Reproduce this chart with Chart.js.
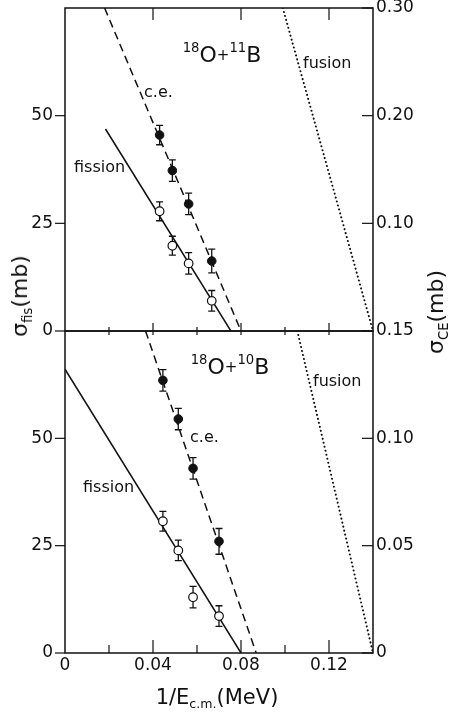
<!DOCTYPE html>
<html>
<head>
<meta charset="utf-8">
<script src="https://cdn.jsdelivr.net/npm/chart.js@4.4.0/dist/chart.umd.min.js"></script>
<style>
  body { margin: 0; background: #fff; }
  #wrap { position: relative; width: 456px; height: 715px; font-family: 'DejaVu Sans', sans-serif; color: #111; overflow: hidden; }
  canvas { position: absolute; left: 0; }
  #topChart { top: 0; }
  #bottomChart { top: 320px; }
  .lbl { position: absolute; white-space: nowrap; line-height: 1; font-size: 16px; }
  .lbl sub, .lbl sup { font-size: 0.6em; line-height: 0; }
  .lbl sub { vertical-align: -0.35em; }
  .lbl sup { vertical-align: 0.75em; }
  .mid { transform: translate(-50%, -50%); }
  .lft { transform: translateY(-50%); }
  .rot { transform: translate(-50%, -50%) rotate(-90deg); font-size: 22px; }
  .reac { font-size: 22px; }
  .reac .plus { font-size: 15px; vertical-align: 0.15em; }
</style>
</head>
<body>
<div id="wrap">
  <canvas id="topChart" width="456" height="345"></canvas>
  <canvas id="bottomChart" width="456" height="395"></canvas>

  <div class="lbl rot" style="left:20px; top:296px;">σ<sub>fis</sub>(mb)</div>
  <div class="lbl rot" style="left:436px; top:312px;">σ<sub>CE</sub>(mb)</div>
  <div class="lbl mid" style="left:217px; top:697px; font-size:21px;">1/E<sub>c.m.</sub>(MeV)</div>

  <div class="lbl mid reac" style="left:222px; top:55px;"><sup>18</sup>O<span class="plus">+</span><sup>11</sup>B</div>
  <div class="lbl lft" style="left:303px; top:63px;">fusion</div>
  <div class="lbl lft" style="left:144px; top:92px;">c.e.</div>
  <div class="lbl lft" style="left:74px; top:167px;">fission</div>

  <div class="lbl mid reac" style="left:230px; top:367px;"><sup>18</sup>O<span class="plus">+</span><sup>10</sup>B</div>
  <div class="lbl lft" style="left:313px; top:381px;">fusion</div>
  <div class="lbl lft" style="left:190px; top:437px;">c.e.</div>
  <div class="lbl lft" style="left:83px; top:487px;">fission</div>
</div>
<script>
// 1/E_cm (MeV^-1) of the measured points
const energyTop = [0.0430, 0.0488, 0.0562, 0.0667];
const energyBottom = [0.0445, 0.0515, 0.0582, 0.0700];

// 18O + 11B : fission (mb) and c.e. (mb, right axis)
const fisTop = [27.8, 19.8, 15.7, 7.0];
const fisTopErr = [2.2, 2.2, 2.5, 2.4];
const ceTop = [0.182, 0.149, 0.118, 0.065];
const ceTopErr = [0.009, 0.010, 0.010, 0.011];

// 18O + 10B
const fisBottom = [30.7, 23.9, 13.0, 8.6];
const fisBottomErr = [2.3, 2.4, 2.5, 2.4];
const ceBottom = [0.127, 0.109, 0.086, 0.052];
const ceBottomErr = [0.005, 0.005, 0.005, 0.006];

// straight-line systematics, end points
const fisFitTopX = [0.0184, 0.0754], fisFitTopY = [46.9, 0];
const ceFitTopX = [0.018, 0.080], ceFitTopY = [0.30, 0];
const fusTopX = [0.099, 0.140], fusTopY = [0.30, 0];
const fisFitBottomX = [0, 0.080], fisFitBottomY = [66.1, 0];
const ceFitBottomX = [0.0366, 0.0869], ceFitBottomY = [0.15, 0];
const fusBottomX = [0.1056, 0.140], fusBottomY = [0.15, 0];

// ticks
const energyTicks = [0, 0.04, 0.08, 0.12];
const energyMinor = [0.02, 0.06, 0.10];
const fisTicks = [0, 25, 50];
const ceTicksTop = [0.10, 0.20, 0.30];
const ceTicksBottom = [0, 0.05, 0.10, 0.15];

const INK = '#111';
const FONT = { family: "'DejaVu Sans', sans-serif", size: 17 };

const pts = (xs, ys) => xs.map((x, i) => ({ x: x, y: ys[i] }));
const fmt = v => v === 0 ? '0' : (Math.abs(v) < 1 ? v.toFixed(2) : String(v));

// fixed axis sizes so both panels share the same plot box
function fixSize(s, w, h) {
  if (w !== undefined) s.width = w;
  if (h !== undefined) s.height = h;
  s.paddingTop = s.paddingBottom = s.paddingLeft = s.paddingRight = 0;
}

// vertical error bars with small caps, drawn under the markers
const errorBars = {
  id: 'errorBars',
  beforeDatasetsDraw(chart) {
    const ctx = chart.ctx;
    chart.data.datasets.forEach(ds => {
      if (!ds.errors) return;
      const ys = chart.scales[ds.yAxisID];
      ctx.save();
      ctx.strokeStyle = INK;
      ctx.lineWidth = 1.3;
      ds.data.forEach((p, j) => {
        const x = chart.scales.x.getPixelForValue(p.x);
        const y1 = ys.getPixelForValue(p.y + ds.errors[j]);
        const y2 = ys.getPixelForValue(p.y - ds.errors[j]);
        ctx.beginPath();
        ctx.moveTo(x, y1); ctx.lineTo(x, y2);
        ctx.moveTo(x - 3.5, y1); ctx.lineTo(x + 3.5, y1);
        ctx.moveTo(x - 3.5, y2); ctx.lineTo(x + 3.5, y2);
        ctx.stroke();
      });
      ctx.restore();
    });
  }
};

// box frame plus tick marks (left outside, right and x inside)
const frame = {
  id: 'frame',
  afterDatasetsDraw(chart, args, o) {
    const { ctx, chartArea: a, scales } = chart;
    const seg = (x1, y1, x2, y2) => { ctx.beginPath(); ctx.moveTo(x1, y1); ctx.lineTo(x2, y2); ctx.stroke(); };
    ctx.save();
    ctx.strokeStyle = INK;
    ctx.lineWidth = 1.5;
    ctx.strokeRect(a.left, a.top, a.right - a.left, a.bottom - a.top);
    ctx.lineWidth = 1.2;
    fisTicks.forEach(v => { const y = scales.y.getPixelForValue(v); seg(a.left - 10, y, a.left, y); });
    o.rightTicks.forEach(v => { const y = scales.y1.getPixelForValue(v); seg(a.right - 11, y, a.right, y); });
    energyTicks.concat(energyMinor).forEach(v => {
      if (v === 0) return;
      const x = scales.x.getPixelForValue(v);
      const major = energyTicks.includes(v);
      const t = major ? o.top[0] : o.top[1];
      const b = major ? o.bottom[0] : o.bottom[1];
      if (t) seg(x, a.top, x, a.top + t);
      if (b) seg(x, a.bottom, x, a.bottom - b);
    });
    ctx.restore();
  }
};

function datasets(ex, fis, fisErr, ce, ceErr, fitFis, fitCe, fus) {
  return [
    { data: pts(ex, ce), errors: ceErr, yAxisID: 'y1', pointRadius: 4.3,
      backgroundColor: INK, borderColor: INK, borderWidth: 1 },
    { data: pts(ex, fis), errors: fisErr, yAxisID: 'y', pointRadius: 4.3,
      backgroundColor: '#fff', borderColor: INK, borderWidth: 1.2 },
    { data: fitFis, yAxisID: 'y', showLine: true, pointRadius: 0,
      borderColor: INK, borderWidth: 1.5 },
    { data: fitCe, yAxisID: 'y1', showLine: true, pointRadius: 0,
      borderColor: INK, borderWidth: 1.5, borderDash: [8, 5] },
    { data: fus, yAxisID: 'y1', showLine: true, pointRadius: 0,
      borderColor: INK, borderWidth: 2, borderDash: [0.1, 4], borderCapStyle: 'round' }
  ];
}

function options(ceMax, ceTicks, showX, frameOpts, padTop, padBottom) {
  return {
    responsive: false,
    animation: false,
    events: [],
    layout: { autoPadding: false, padding: { top: padTop, bottom: padBottom, left: 0, right: 0 } },
    plugins: { legend: { display: false }, tooltip: { enabled: false }, frame: frameOpts },
    scales: {
      x: {
        type: 'linear', min: 0, max: 0.14, display: showX,
        grid: { display: false, drawTicks: false }, border: { display: false },
        afterBuildTicks: s => { s.ticks = energyTicks.map(v => ({ value: v })); },
        afterFit: s => fixSize(s, undefined, showX ? 62 : 0),
        ticks: { padding: 2, color: INK, font: FONT, maxRotation: 0, autoSkip: false, callback: fmt }
      },
      y: {
        position: 'left', min: 0, max: 75,
        grid: { display: false, drawTicks: false }, border: { display: false },
        afterBuildTicks: s => { s.ticks = fisTicks.map(v => ({ value: v })); },
        afterFit: s => fixSize(s, 65),
        ticks: { padding: 12, color: INK, font: FONT, callback: fmt }
      },
      y1: {
        position: 'right', min: 0, max: ceMax,
        grid: { display: false, drawTicks: false }, border: { display: false },
        afterBuildTicks: s => { s.ticks = ceTicks.map(v => ({ value: v })); },
        afterFit: s => fixSize(s, 83),
        ticks: { padding: 3, color: INK, font: FONT, callback: fmt }
      }
    }
  };
}

// 18O + 11B panel
new Chart(document.getElementById('topChart'), {
  type: 'scatter',
  data: { datasets: datasets(energyTop, fisTop, fisTopErr, ceTop, ceTopErr,
    pts(fisFitTopX, fisFitTopY), pts(ceFitTopX, ceFitTopY), pts(fusTopX, fusTopY)) },
  options: options(0.30, ceTicksTop, false,
    { rightTicks: ceTicksTop, top: [12, 0], bottom: [8, 4] }, 8, 14),
  plugins: [errorBars, frame]
});

// 18O + 10B panel
new Chart(document.getElementById('bottomChart'), {
  type: 'scatter',
  data: { datasets: datasets(energyBottom, fisBottom, fisBottomErr, ceBottom, ceBottomErr,
    pts(fisFitBottomX, fisFitBottomY), pts(ceFitBottomX, ceFitBottomY), pts(fusBottomX, fusBottomY)) },
  options: options(0.15, ceTicksBottom, true,
    { rightTicks: ceTicksBottom, top: [4, 4], bottom: [13, 8] }, 11, 0),
  plugins: [errorBars, frame]
});
</script>
</body>
</html>
